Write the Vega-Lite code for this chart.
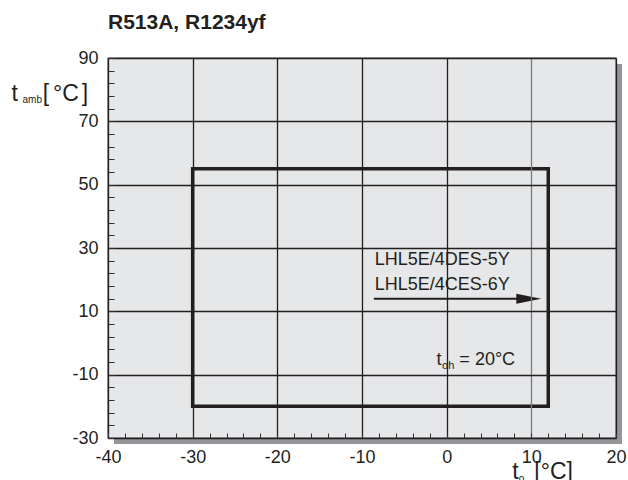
{
  "$schema": "https://vega.github.io/schema/vega-lite/v6.json",
  "width": 508,
  "height": 380,
  "autosize": {"type": "none"},
  "padding": {"left": 108, "top": 58, "right": 12, "bottom": 42},
  "background": "white",
  "config": {
    "font": "Liberation Sans",
    "view": {"stroke": null},
    "text": {"font": "Liberation Sans", "color": "#231f20"}
  },
  "title": {
    "text": "R513A, R1234yf",
    "anchor": "start",
    "frame": "group",
    "baseline": "alphabetic",
    "offset": -1,
    "fontSize": 21,
    "fontWeight": "bold",
    "font": "Liberation Sans",
    "color": "#231f20"
  },
  "datasets": {
    "frame": [{"x": -40, "x2": 20, "y": -30, "y2": 90}],
    "envelope": [{"x": -30, "x2": 12, "y": -20, "y2": 55}],
    "arrow": [{"x": -8.6, "x2": 9.6, "y": 14}],
    "head": [{"x": 9.7, "y": 14}],
    "mainText": [
      {"text": "LHL5E/4DES-5Y", "x": -8.5, "y": 24.6},
      {"text": "LHL5E/4CES-6Y", "x": -8.5, "y": 16.7},
      {"text": "t", "x": -1.2, "y": -7},
      {"text": "= 20°C", "x": 1.5, "y": -7}
    ],
    "subText": [
      {"text": "oh", "x": -0.55, "y": -8.1}
    ],
    "titleText": [
      {"text": "t", "x": -51.4, "y": 76.3},
      {"text": "[", "x": -47.7, "y": 76.3},
      {"text": "°C", "x": -46.5, "y": 76.3},
      {"text": "]", "x": -43.1, "y": 76.3},
      {"text": "t", "x": 7.76, "y": -42.8},
      {"text": "[°C]", "x": 10.35, "y": -42.8}
    ],
    "titleSub": [
      {"text": "amb", "x": -50.1, "y": 75.9},
      {"text": "o", "x": 8.5, "y": -44}
    ]
  },
  "encoding": {
    "x": {
      "field": "x", "type": "quantitative",
      "scale": {"domain": [-40, 20], "nice": false, "zero": false},
      "axis": {
        "title": null,
        "values": [-40,-38,-36,-34,-32,-30,-28,-26,-24,-22,-20,-18,-16,-14,-12,-10,-8,-6,-4,-2,0,2,4,6,8,10,12,14,16,18,20],
        "labelExpr": "datum.value % 10 === 0 ? ('' + datum.value) : ''",
        "labelOverlap": false,
        "labelFlush": false,
        "labelBound": false,
        "labelFontSize": 18,
        "labelColor": "#231f20",
        "labelPadding": 15,
        "tickSize": -5,
        "tickColor": "#333333",
        "tickWidth": 1,
        "domain": false,
        "grid": true,
        "gridColor": {"condition": {"test": "datum.value === 10", "value": "#7a7b7e"}, "value": "#231f20"},
        "gridOpacity": {"condition": {"test": "datum.value % 10 === 0", "value": 1}, "value": 0},
        "gridWidth": 1.3,
        "zindex": 1
      }
    },
    "y": {
      "field": "y", "type": "quantitative",
      "scale": {"domain": [-30, 90], "nice": false, "zero": false},
      "axis": {
        "title": null,
        "values": [-30,-26,-22,-18,-14,-10,-6,-2,2,6,10,14,18,22,26,30,34,38,42,46,50,54,58,62,66,70,74,78,82,86,90],
        "labelExpr": "(datum.value + 30) % 20 === 0 ? ('' + datum.value) : ''",
        "labelOverlap": false,
        "labelFlush": false,
        "labelBound": false,
        "labelFontSize": 18,
        "labelColor": "#231f20",
        "labelPadding": 16,
        "tickSize": -6,
        "tickColor": "#333333",
        "tickWidth": 1,
        "domain": false,
        "grid": true,
        "gridColor": "#231f20",
        "gridOpacity": {"condition": {"test": "(datum.value + 30) % 20 === 0", "value": 1}, "value": 0},
        "gridWidth": 1.3,
        "zindex": 1
      }
    }
  },
  "layer": [
    {
      "data": {"name": "frame"},
      "mark": {"type": "rect", "fill": "#939598", "xOffset": 6, "x2Offset": 6, "yOffset": 6, "y2Offset": 6},
      "encoding": {
        "x2": {"field": "x2"},
        "y2": {"field": "y2"}
      }
    },
    {
      "data": {"name": "frame"},
      "mark": {"type": "rect", "fill": "#e6e7e8", "stroke": "#58595b", "strokeWidth": 1.2},
      "encoding": {
        "x2": {"field": "x2"},
        "y2": {"field": "y2"}
      }
    },
    {
      "data": {"name": "envelope"},
      "mark": {"type": "rect", "fillOpacity": 0, "stroke": "#231f20", "strokeWidth": 3.5, "zindex": 2},
      "encoding": {
        "x2": {"field": "x2"},
        "y2": {"field": "y2"}
      }
    },
    {
      "data": {"name": "arrow"},
      "mark": {"type": "rule", "color": "#231f20", "strokeWidth": 2, "zindex": 2},
      "encoding": {
        "x2": {"field": "x2"}
      }
    },
    {
      "data": {"name": "head"},
      "mark": {"type": "point", "shape": "M -1 -0.4 L 1 0 L -1 0.4 Z", "size": 625, "filled": true, "color": "#231f20", "opacity": 1, "strokeWidth": 0, "zindex": 2},
      "encoding": {}
    },
    {
      "data": {"name": "mainText"},
      "mark": {"type": "text", "align": "left", "baseline": "alphabetic", "fontSize": 18, "zindex": 2},
      "encoding": {
        "text": {"field": "text"}
      }
    },
    {
      "data": {"name": "subText"},
      "mark": {"type": "text", "align": "left", "baseline": "alphabetic", "fontSize": 11, "zindex": 2},
      "encoding": {
        "text": {"field": "text"}
      }
    },
    {
      "data": {"name": "titleText"},
      "mark": {"type": "text", "align": "left", "baseline": "alphabetic", "fontSize": 23, "clip": false},
      "encoding": {
        "text": {"field": "text"}
      }
    },
    {
      "data": {"name": "titleSub"},
      "mark": {"type": "text", "align": "left", "baseline": "alphabetic", "fontSize": 10, "clip": false},
      "encoding": {
        "text": {"field": "text"}
      }
    }
  ]
}
